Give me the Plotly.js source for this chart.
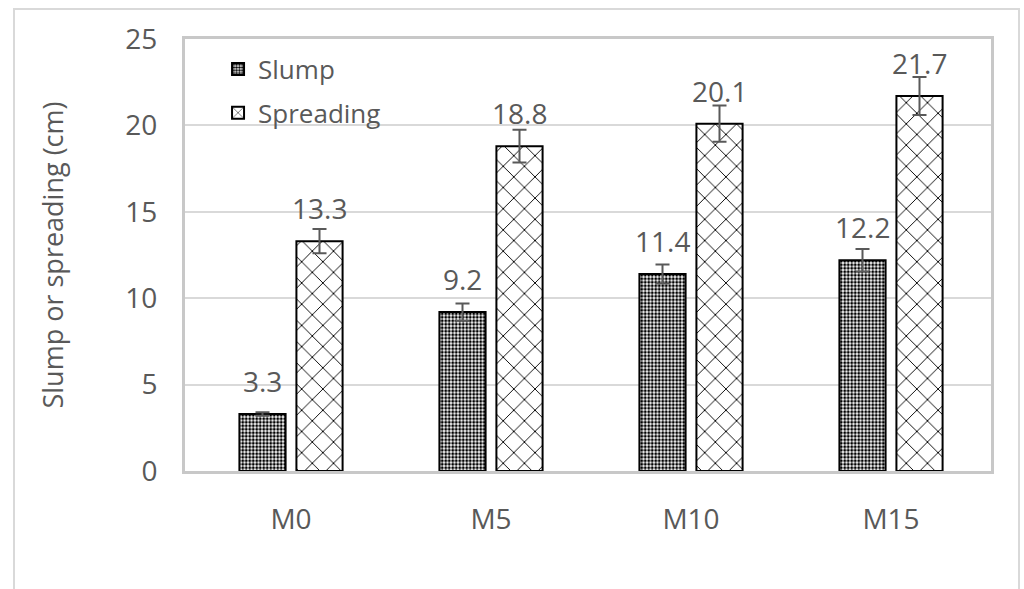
<!DOCTYPE html>
<html>
<head>
<meta charset="utf-8">
<script src="https://cdn.plot.ly/plotly-3.0.1.min.js"></script>
<style>
  html, body { margin: 0; padding: 0; background: #ffffff; }
  #wrap { position: relative; width: 1024px; height: 589px; overflow: hidden; }
  #chart { width: 1024px; height: 589px; }
  #frame { position: absolute; left: 13px; top: 8px; width: 1007px; height: 620px;
           border: 2px solid #d9d9d9; pointer-events: none; box-sizing: border-box; }
</style>
</head>
<body>
<div id="wrap">
  <div id="chart"></div>
  <div id="frame"></div>
</div>
<script>
const categories = ["M0", "M5", "M10", "M15"];
const slump = [3.3, 9.2, 11.4, 12.2];
const slumpErr = [0.1, 0.5, 0.55, 0.65];
const spreading = [13.3, 18.8, 20.1, 21.7];
const spreadingErr = [0.7, 0.95, 1.05, 1.1];
const yTicks = [0, 5, 10, 15, 20, 25];

const FONT = "Open Sans, Noto Sans, sans-serif";
const TXT = "#595959";

const slumpTrace = {
  type: "bar", name: "Slump", x: categories, y: slump,
  legendgroup: "a",
  marker: {
    color: "#ffffff",
    line: { color: "#000000", width: 2 },
    pattern: { shape: ".", size: 3.5, solidity: 0.55, fgcolor: "#000000", bgcolor: "#ffffff", fillmode: "replace" }
  },
  error_y: { type: "data", array: slumpErr, visible: true, color: "#595959", thickness: 2, width: 7 },
  hoverinfo: "skip"
};
const spreadTrace = {
  type: "bar", name: "Spreading", x: categories, y: spreading,
  legendgroup: "b",
  marker: {
    color: "#ffffff",
    line: { color: "#000000", width: 2 },
    pattern: { shape: "x", size: 15, solidity: 0.12, fgcolor: "#000000", bgcolor: "#ffffff", fillmode: "replace" }
  },
  error_y: { type: "data", array: spreadingErr, visible: true, color: "#595959", thickness: 2, width: 7 },
  hoverinfo: "skip"
};

const annotations = [];
categories.forEach((c, i) => {
  annotations.push({ x: c, y: slump[i], text: String(slump[i]), showarrow: false,
    xshift: -28.5, yshift: 12, yanchor: "bottom", font: { family: FONT, size: 28, color: TXT } });
  annotations.push({ x: c, y: spreading[i], text: String(spreading[i]), showarrow: false,
    xshift: 28.5, yshift: 12, yanchor: "bottom", font: { family: FONT, size: 28, color: TXT } });
});

const layout = {
  width: 1024, height: 589,
  margin: { l: 185, r: 33, t: 39, b: 118, pad: 0 },
  paper_bgcolor: "#ffffff", plot_bgcolor: "#ffffff",
  font: { family: FONT, color: TXT, size: 26 },
  barmode: "group", bargap: 0.43, bargroupgap: 0.19,
  showlegend: true,
  legend: { x: 0.041, y: 0.985, xanchor: "left", yanchor: "top", bgcolor: "rgba(0,0,0,0)",
            font: { family: FONT, size: 26, color: TXT }, tracegroupgap: 7, itemwidth: 30 },
  xaxis: {
    type: "category", range: [-0.53, 3.5],
    showgrid: false, showline: true, mirror: true, linecolor: "#c8c8c8", linewidth: 3,
    ticks: "", tickfont: { family: FONT, size: 28, color: TXT }, ticklabelstandoff: 21, zeroline: false
  },
  yaxis: {
    range: [0, 25], tickvals: yTicks, ticktext: yTicks.map(String),
    showgrid: true, gridcolor: "#d9d9d9", gridwidth: 2,
    showline: true, mirror: true, linecolor: "#c8c8c8", linewidth: 3, zeroline: false,
    ticks: "", tickfont: { family: FONT, size: 28, color: TXT }, ticklabelstandoff: 19,
    title: { text: "Slump or spreading (cm)", font: { family: FONT, size: 27, color: TXT }, standoff: 54 }
  },
  annotations: annotations
};

Plotly.newPlot("chart", [slumpTrace, spreadTrace], layout, { staticPlot: true, displayModeBar: false });
</script>
</body>
</html>
